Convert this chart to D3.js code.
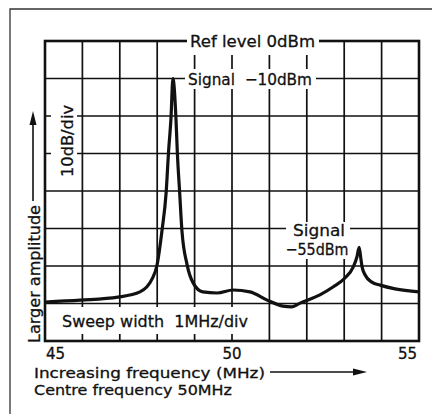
<!DOCTYPE html>
<html><head><meta charset="utf-8">
<script src="https://cdn.jsdelivr.net/npm/d3@7"></script>
<style>
html,body{margin:0;padding:0;background:#fff}
svg{display:block}
text{font-family:"DejaVu Sans",sans-serif;fill:#111;stroke:#111;stroke-width:0.3}
</style>
</head><body>
<svg id="c" width="432" height="414"></svg>
<script>
// Trace data: frequency (MHz) and amplitude (dBm)
const freqMHz = [45.0, 45.94, 46.95, 47.54, 47.86, 47.99, 48.13, 48.24, 48.30, 48.37, 48.42,
  48.50, 48.54, 48.60, 48.66, 48.80, 48.96, 49.22, 49.60, 50.03, 50.48, 50.94, 51.36, 51.60,
  51.82, 52.35, 52.70, 53.02, 53.24, 53.34, 53.40, 53.45, 53.48, 53.56, 53.74, 53.96, 54.36, 55.0];
const ampDbm = [-69.6, -69.1, -68.3, -66.9, -63.5, -60.0, -50.4, -40.3, -30.1, -20.3, -10,
  -20.3, -30.1, -40.3, -50.4, -59.7, -64.5, -66.9, -67.2, -66.4, -66.9, -69.1, -70.7, -70.9,
  -69.9, -67.7, -65.6, -63.2, -60.3, -57.6, -55, -58.4, -60.3, -62.4, -64.3, -65.1, -66.1, -66.9];
const gridFreq = [45, 46, 47, 48, 49, 50, 51, 52, 53, 54, 55];
const gridDb = [0, -10, -20, -30, -40, -50, -60, -70, -80];
const tickValues = [45, 50, 55];
const tickLabels = ["45", "50", "55"];

const svg = d3.select("#c");
const x = d3.scaleLinear().domain([45, 55]).range([45, 419]);
const y = d3.scaleLinear().domain([-80, 0]).range([341, 41]);
const ink = "#111";

// outer figure border (top and left visible)
svg.append("path").attr("d", "M10,414 L10,9 L432,9")
  .attr("fill", "none").attr("stroke", "#333").attr("stroke-width", 1.3);

// grid
const g = svg.append("g");
g.selectAll("line.v").data(gridFreq).join("line").attr("class", "v")
  .attr("x1", d => x(d)).attr("x2", d => x(d))
  .attr("y1", y(0)).attr("y2", y(-80))
  .attr("stroke", ink).attr("stroke-width", 1.7);
g.selectAll("line.h").data(gridDb).join("line").attr("class", "h")
  .attr("x1", x(45)).attr("x2", x(55))
  .attr("y1", d => y(d)).attr("y2", d => y(d))
  .attr("stroke", ink).attr("stroke-width", 1.7);
// frame
g.append("rect").attr("x", x(45)).attr("y", y(0))
  .attr("width", x(55) - x(45)).attr("height", y(-80) - y(0))
  .attr("fill", "none").attr("stroke", ink).attr("stroke-width", 2.6);

// white masks behind labels inside the plot
const masks = [
  [187, 31, 132, 24],   // Ref level
  [185, 69, 131, 20],   // Signal -10dBm
  [51, 100, 26, 81],    // 10dB/div
  [56, 307, 197, 27],   // Sweep width
  [286, 222, 64, 37]    // Signal -55dBm
];
svg.selectAll("rect.m").data(masks).join("rect").attr("class", "m")
  .attr("x", d => d[0]).attr("y", d => d[1]).attr("width", d => d[2]).attr("height", d => d[3])
  .attr("fill", "#fff");

// trace
const pts = freqMHz.map((f, i) => [f, ampDbm[i]]);
svg.append("path").datum(pts)
  .attr("d", d3.line().x(d => x(d[0])).y(d => y(d[1])).curve(d3.curveMonotoneX))
  .attr("fill", "none").attr("stroke", ink).attr("stroke-width", 3.2)
  .attr("stroke-linejoin", "round");

function txt(s, px, py, size, len, anchor, rot) {
  const t = svg.append("text").text(s).attr("font-size", size)
    .attr("text-anchor", anchor || "start");
  if (rot) t.attr("transform", `translate(${px},${py}) rotate(-90)`);
  else t.attr("x", px).attr("y", py);
  if (len) t.attr("textLength", len).attr("lengthAdjust", "spacingAndGlyphs");
  return t;
}

txt("Ref level 0dBm", 190, 46.5, 16, 125);
txt("Signal\u00a0 \u221210dBm", 188, 85, 16, 124);
txt("10dB/div", 73, 141, 16, 72, "middle", true);
txt("Sweep width\u00a0 1MHz/div", 62, 327, 16, 186);
txt("Signal", 319, 236, 16, 52, "middle");
txt("\u221255dBm", 317, 255, 16, 63, "middle");
txt("Larger amplitude", 40, 343, 16, 138, "start", true);
txt("Increasing frequency (MHz)", 34, 378, 14.5, 231);
txt("Centre frequency 50MHz", 34, 395, 14.5, 198);

// x tick labels
const anchors = ["start", "middle", "end"];
const offs = [1, 0, -2];
svg.selectAll("text.tk").data(tickValues).join("text").attr("class", "tk")
  .attr("x", (d, i) => x(d) + offs[i]).attr("y", 359)
  .attr("text-anchor", (d, i) => anchors[i]).attr("font-size", 15)
  .text((d, i) => tickLabels[i]);

// arrows
svg.append("line").attr("x1", 270).attr("x2", 356).attr("y1", 372).attr("y2", 372)
  .attr("stroke", ink).attr("stroke-width", 1.6);
svg.append("path").attr("d", "M367,372 L353,368.5 L353,375.5 Z").attr("fill", ink);
svg.append("line").attr("x1", 33).attr("x2", 33).attr("y1", 201).attr("y2", 122)
  .attr("stroke", ink).attr("stroke-width", 1.6);
svg.append("path").attr("d", "M33,111 L29.5,125 L36.5,125 Z").attr("fill", ink);
</script>
</body></html>
